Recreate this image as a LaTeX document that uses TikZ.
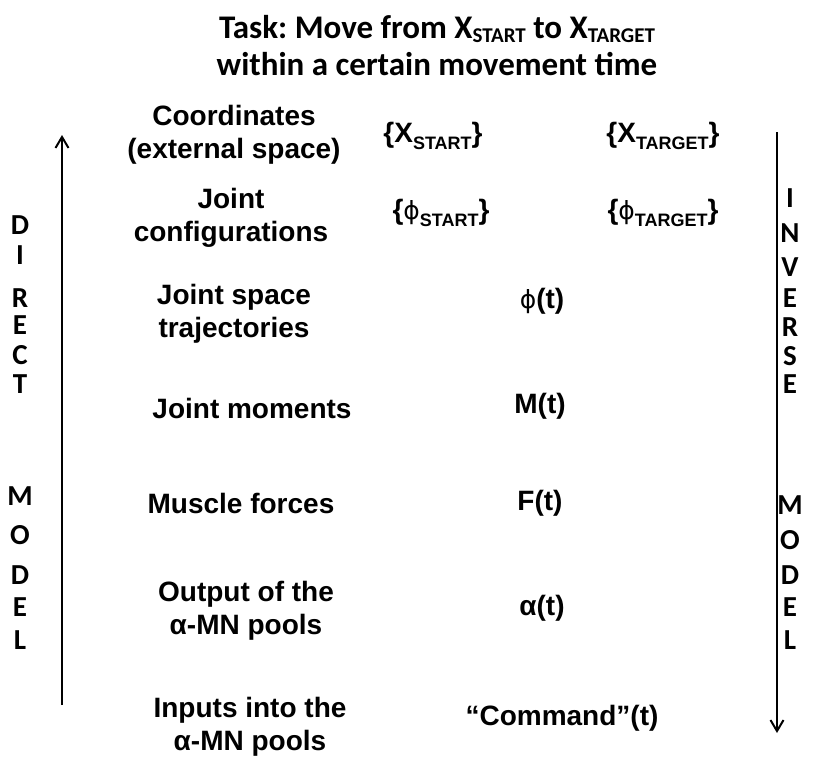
\documentclass[tikz,border=0pt]{standalone}
\usepackage{fontspec}
\setmainfont{Liberation Sans}[BoldFont={* Bold}]
\newfontfamily\titlefont{Carlito}
\newfontfamily\dvs{DejaVu Sans}
\usetikzlibrary{arrows.meta}
\frenchspacing
\newcommand{\sbs}[1]{\raisebox{-0.28em}{\fontsize{18}{18}\selectfont #1}}
\newcommand{\tsbs}[1]{\raisebox{-0.15em}{\fontsize{21}{21}\selectfont #1}}
\newcommand{\vphi}{{\dvs\mdseries\fontsize{25}{25}\selectfont ϕ}}
\begin{document}
\begin{tikzpicture}[x=1pt,y=-1pt,
  lbl/.style={inner sep=0pt,align=center,font=\bfseries\fontsize{28}{33}\selectfont},
  sym/.style={inner sep=0pt,font=\bfseries\fontsize{28}{33}\selectfont},
  ttl/.style={inner sep=0pt,font=\titlefont\bfseries\fontsize{33}{33}\selectfont},
  letter/.style={inner sep=0pt,font=\titlefont\bfseries\fontsize{29}{29}\selectfont},
  flow/.style={line width=2pt,-{Straight Barb[length=11pt,width=13pt,line width=2pt]}}]
\useasboundingbox (0,0) rectangle (831,758);
\node[ttl,anchor=base] (title1) at (437,38) {Task: Move from X\tsbs{START} to X\tsbs{TARGET}};
\node[ttl,anchor=base] (title2) at (437,75) {within a certain movement time};
% left column
\node[lbl] (coord) at (234,135) {Coordinates\\(external space)};
\node[lbl] (jconf) at (231,218) {Joint\\configurations};
\node[lbl] (jtraj) at (234,314) {Joint space\\trajectories};
\node[lbl] (jmom) at (252,408) {Joint moments};
\node[lbl] (mforce) at (241,503) {Muscle forces};
\node[lbl] (outp) at (246,611) {Output of the\\α-MN pools};
\node[lbl] (inp) at (250,727) {Inputs into the\\α-MN pools};
% symbols
\node[sym] (xs) at (433,136) {\{X\sbs{START}\}};
\node[sym] (xt) at (663,136) {\{X\sbs{TARGET}\}};
\node[sym] (ps) at (441,213) {\{\vphi\sbs{START}\}};
\node[sym] (pt) at (663,213) {\{\vphi\sbs{TARGET}\}};
\node[sym] (phit) at (542,301) {\vphi(t)};
\node[sym] (mt) at (540,406) {M(t)};
\node[sym] (ft) at (540,503) {F(t)};
\node[sym] (at) at (542,608) {α(t)};
\node[sym] (cmd) at (562,718) {“Command”(t)};
% arrows
\coordinate (lbot) at (62,705);
\coordinate (ltop) at (62,135);
\coordinate (rtop) at (777,132);
\coordinate (rbot) at (777,733);
\draw[flow] (lbot) -- (ltop);
\draw[flow] (rtop) -- (rbot);
% letters
\foreach \ch/\yy [count=\i] in {D/225,I/255,R/298,E/325,C/355,T/384,M/496,O/535,D/575,E/607,L/640}
  \node[letter] (dl\i) at (20,\yy) {\ch};
\foreach \ch/\yy [count=\i] in {I/198,N/233,V/267,E/298,R/327,S/356,E/384,M/505,O/540,D/575,E/607,L/640}
  \node[letter] (il\i) at (790,\yy) {\ch};
\end{tikzpicture}
\end{document}
